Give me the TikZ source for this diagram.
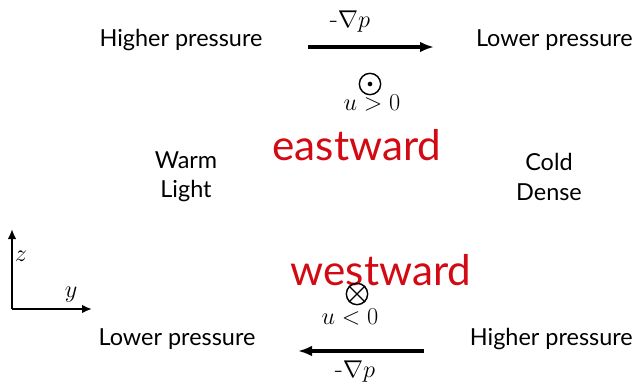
\documentclass[tikz,border=0pt]{standalone}
\usepackage{amsmath}
\usepackage{fontspec}
\setsansfont{Lato}
\usepackage{tikz}
\usetikzlibrary{arrows.meta,calc,positioning}
\definecolor{handred}{RGB}{210,10,20}

\begin{document}
\begin{tikzpicture}[
x=0.03cm, y=-0.03cm,
font=\sffamily,
label/.style={font=\fontsize{20}{25}\selectfont\sffamily, align=center, inner sep=0pt},
mathlbl/.style={font=\fontsize{22.5}{27}\selectfont, inner sep=0pt},
hand/.style={font=\fontsize{36}{40}\selectfont\sffamily, text=handred, inner sep=0pt},
force/.style={-{Latex[length=4.2mm,width=3.2mm]}, line width=2.6pt},
axis/.style={-{Latex[length=3mm,width=2.6mm]}, line width=2.4pt},
marker/.style={draw, circle, line width=1.2pt, minimum size=0.64cm, inner sep=0pt}
]
\useasboundingbox (0,0) rectangle (635,389);

% top level
\node[label] (hightop) at (181,40) {Higher pressure};
\node[label, anchor=east] (lowtop) at (633,40) {Lower pressure};
\coordinate (ftopstart) at (308,47);
\coordinate (ftopend) at (434,47);
\node[mathlbl] (gradtop) at (350,22) {-$\nabla p$};
\node[marker] (outof) at (370,84) {};
\fill (outof.center) circle (2pt);
\node[mathlbl] (upos) at (372,103) {$u>0$};
\node[hand] (east) at (357,145) {eastward};

% middle
\node[label] (warm) at (186,177) {Warm\\Light};
\node[label] (cold) at (549,177) {Cold\\Dense};

% bottom level
\node[hand] (west) at (381,270) {westward};
\node[marker] (into) at (357,294) {};
\draw[line width=1.2pt] (into.45) -- (into.225) (into.135) -- (into.315);
\node[mathlbl] (uneg) at (350,317) {$u<0$};
\node[label] (lowbot) at (177,339) {Lower pressure};
\node[label, anchor=east] (highbot) at (633,339) {Higher pressure};
\coordinate (fbotstart) at (424,351);
\coordinate (fbotend) at (298,351);
\node[mathlbl] (gradbot) at (355,372) {-$\nabla p$};

\draw[force] (ftopstart) -- (ftopend);
\draw[force] (fbotstart) -- (fbotend);

% axes
\coordinate (origin) at (12,309);
\coordinate (zend) at (12,229);
\coordinate (yend) at (92,309);
\draw[axis] (origin) -- (zend);
\draw[axis] (origin) -- (yend);
\node[mathlbl] (zlbl) at (21,256) {$z$};
\node[mathlbl] (ylbl) at (71,295) {$y$};
\end{tikzpicture}
\end{document}
